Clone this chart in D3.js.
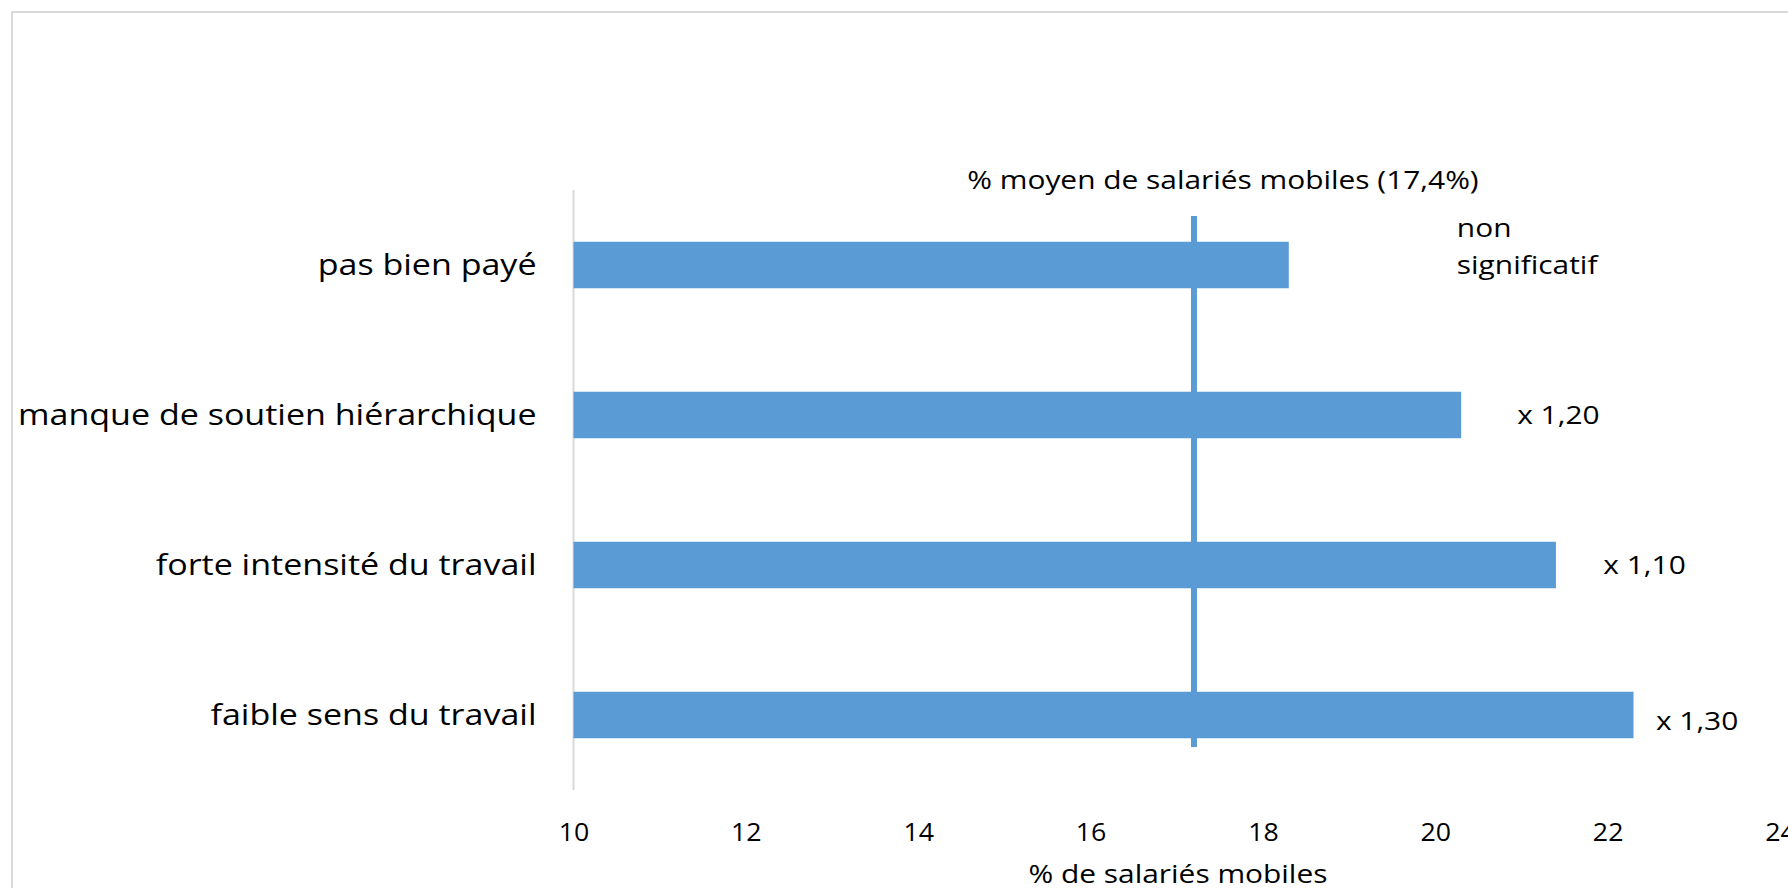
<!DOCTYPE html>
<html><head><meta charset="utf-8">
<script src="https://cdn.jsdelivr.net/npm/d3@7"></script>
<style>
html,body{margin:0;padding:0;background:#fff;overflow:hidden;}
text{font-family:"Open Sans",sans-serif;fill:#000;}
</style></head>
<body>
<svg id="chart" width="1788" height="888"></svg>
<script>
// ---- data ----
const categories = ["pas bien payé","manque de soutien hiérarchique","forte intensité du travail","faible sens du travail"];
const values = [18.3, 20.3, 21.4, 22.3];
const annotations = ["non|significatif","x 1,20","x 1,10","x 1,30"];
const annotationAt = [20.25, 20.95, 21.95, 22.56];
const meanValue = 17.2;
const meanLabel = "% moyen de salariés mobiles (17,4%)";
const xTicks = [10,12,14,16,18,20,22,24];
const xDomain = [10,24];
const xTitle = "% de salariés mobiles";

// ---- drawing ----
const svg = d3.select("#chart");
const blue = "#5b9bd5";
const SX = 1.15; // horizontal stretch of the reference's text
const x = d3.scaleLinear().domain(xDomain).range([573.5,1780]);
const y = d3.scaleBand().domain(categories).range([190,790]).paddingInner(0.69).paddingOuter(0.345);

function label(px, py, txt, size, anchor, sx){
  return svg.append("text")
    .attr("transform", `translate(${px},${py}) scale(${sx||SX},1)`)
    .attr("dy","0.35em").attr("text-anchor",anchor||"start")
    .style("font-size", size+"px").text(txt);
}

// outer border
svg.append("rect").attr("x",12).attr("y",12).attr("width",1800).attr("height",900)
  .attr("fill","none").attr("stroke","#d9d9d9").attr("stroke-width",2);

// category axis line
svg.append("line").attr("x1",x(10)).attr("x2",x(10)).attr("y1",190).attr("y2",790)
  .attr("stroke","#d9d9d9").attr("stroke-width",2);

// bars
svg.selectAll("rect.bar").data(categories).enter().append("rect").attr("class","bar")
  .attr("x",x(10)).attr("y",d=>y(d))
  .attr("width",(d,i)=>x(values[i])-x(10)).attr("height",y.bandwidth())
  .attr("fill",blue);

// category labels
categories.forEach(c=>label(x(10)-37, y(c)+y.bandwidth()/2, c, 29.6, "end"));

// mean line
svg.append("line").attr("x1",x(meanValue)).attr("x2",x(meanValue)).attr("y1",216).attr("y2",747)
  .attr("stroke",blue).attr("stroke-width",6);
label(x(meanValue)+29, 180, meanLabel, 26, "middle");

// annotations
categories.forEach((c,i)=>{
  const lines = annotations[i].split("|");
  const cy = y(c)+y.bandwidth()/2 + (i===3?6:0);
  lines.forEach((t,j)=>label(x(annotationAt[i]), cy-(lines.length-1-j)*37, t, 26, "start"));
});

// x axis
const xAxis = d3.axisBottom(x).tickValues(xTicks).tickSize(0).tickPadding(0).tickFormat(d3.format("d"));
const gx = svg.append("g").attr("transform","translate(0,820)").call(xAxis);
gx.select(".domain").remove();
gx.selectAll(".tick text").attr("y",0).attr("dy","0.35em")
  .attr("transform","translate(0,12) scale(1.07,1)")
  .style("font-family","'Open Sans',sans-serif").style("font-size","25px").attr("fill","#000");

label(1178, 874, xTitle, 26, "middle");
</script>
</body></html>
